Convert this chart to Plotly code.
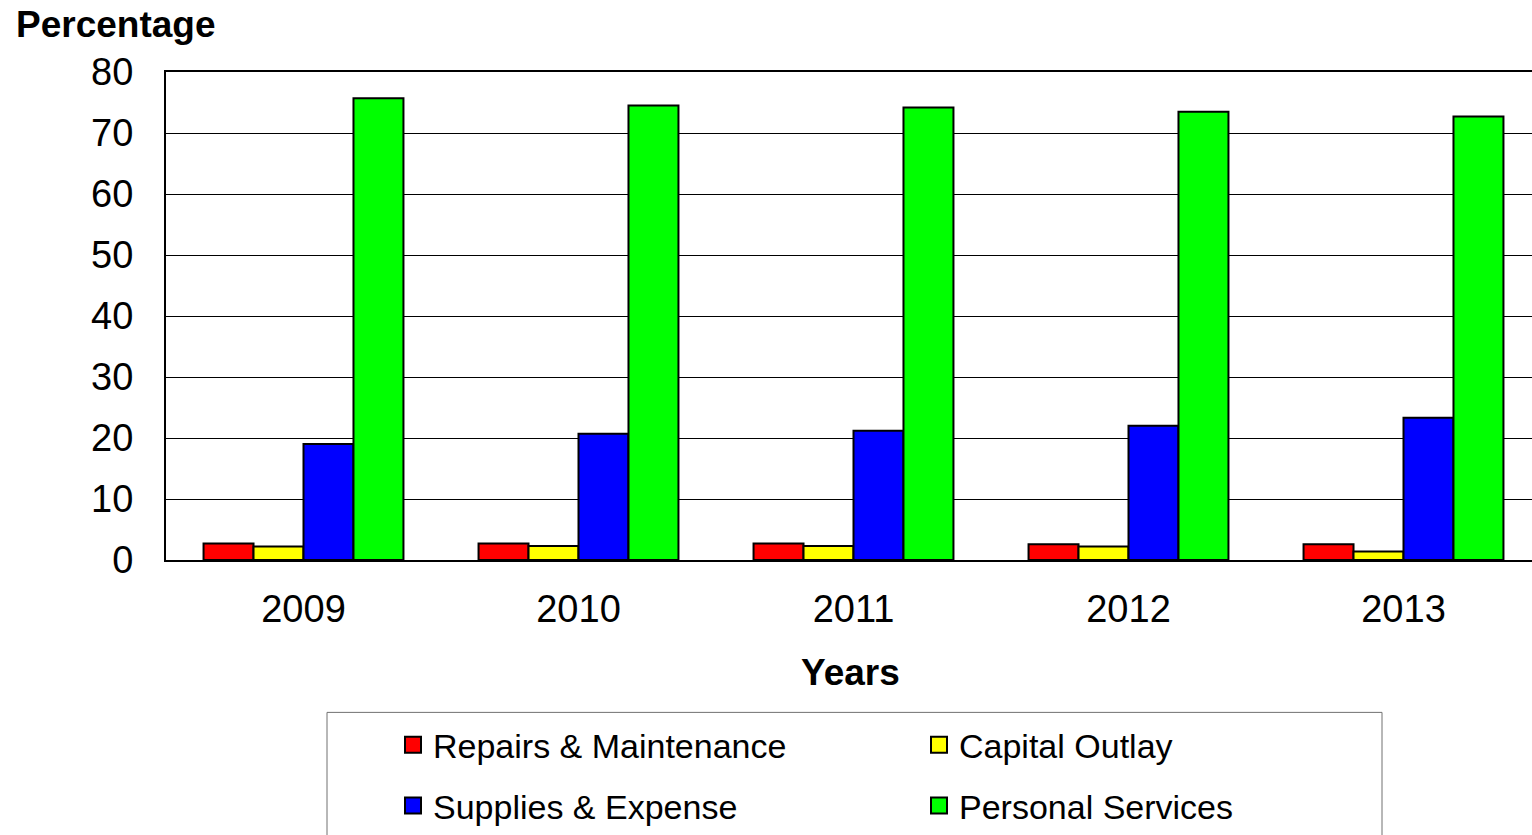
import plotly.graph_objects as go

years = ["2009", "2010", "2011", "2012", "2013"]
repairs = [2.7, 2.7, 2.7, 2.6, 2.6]
capital = [2.2, 2.3, 2.3, 2.2, 1.4]
supplies = [19.0, 20.7, 21.2, 22.0, 23.3]
personal = [75.7, 74.5, 74.2, 73.5, 72.7]

series = [
    ("Repairs & Maintenance", repairs, "#FF0000", "legend"),
    ("Capital Outlay", capital, "#FFFF00", "legend"),
    ("Supplies & Expense", supplies, "#0000FF", "legend2"),
    ("Personal Services", personal, "#00FF00", "legend2"),
]

W, H = 1532, 835
L, T, B = 166, 72, 562          # plot area edges in pixels
PW, PH = W - L, B - T


def px_x(p):
    return (p - L) / PW


def px_y(p):
    return (B - p) / PH


FONT = "Liberation Sans, Arial, sans-serif"

fig = go.Figure()
for name, vals, color, lg in series:
    fig.add_trace(go.Bar(
        x=years, y=vals, name=name, legendgroup=name, showlegend=False,
        marker=dict(color=color, line=dict(color="black", width=2)),
    ))
# larger square swatches for the legend entries
for name, vals, color, lg in series:
    fig.add_trace(go.Scatter(
        x=[None], y=[None], mode="markers", name=name, legend=lg, legendgroup=name,
        marker=dict(symbol="square", size=16, color=color,
                    line=dict(color="black", width=2)),
    ))

legend_common = dict(
    orientation="h", xanchor="left", yanchor="middle",
    entrywidth=481, entrywidthmode="pixels", borderwidth=0,
    itemsizing="trace",
    font=dict(family=FONT, size=34), bgcolor="rgba(0,0,0,0)",
)

fig.update_layout(
    width=W, height=H,
    margin=dict(l=L, r=0, t=T, b=H - B, pad=0),
    paper_bgcolor="white", plot_bgcolor="white",
    barmode="group", bargap=0.273, bargroupgap=0,
    font=dict(family=FONT, size=38, color="black"),
    legend=dict(x=px_x(393), y=px_y(748), **legend_common),
    legend2=dict(x=px_x(393), y=px_y(809), **legend_common),
    xaxis=dict(
        type="category", range=[-0.5, -0.5 + PW / 275.0],
        showline=True, linecolor="black", linewidth=2, mirror=True,
        ticks="", ticklabelstandoff=14, showgrid=False,
        tickfont=dict(family=FONT, size=38),
    ),
    yaxis=dict(
        range=[0, 80], dtick=10, showline=True, linecolor="black", linewidth=2,
        ticks="", ticklabelstandoff=23,
        showgrid=True, gridcolor="black", gridwidth=1,
        zeroline=False, tickfont=dict(family=FONT, size=38),
    ),
    annotations=[
        dict(text="<b>Percentage</b>", xref="paper", yref="paper",
             x=px_x(14), y=px_y(24), xanchor="left", yanchor="middle",
             showarrow=False, font=dict(family=FONT, size=37)),
        dict(text="<b>Years</b>", xref="paper", yref="paper",
             x=px_x(850), y=px_y(675), xanchor="center", yanchor="middle",
             showarrow=False, font=dict(family=FONT, size=37)),
    ],
    shapes=[
        dict(type="rect", xref="paper", yref="paper",
             x0=px_x(327), x1=px_x(1382), y0=px_y(715), y1=px_y(860),
             line=dict(color="#707070", width=1), fillcolor="rgba(0,0,0,0)", layer="below"),
    ],
)

fig.write_html("out.html")
